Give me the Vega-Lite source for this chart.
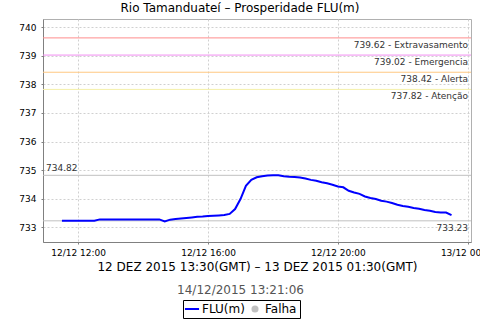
{
  "$schema": "https://vega.github.io/schema/vega-lite/v6.json",
  "width": 428,
  "height": 223,
  "autosize": {"type": "none"},
  "padding": {"left": 43, "top": 19, "right": 9, "bottom": 78},
  "background": "white",
  "config": {
    "font": "DejaVu Sans",
    "view": {"stroke": "#b0b0b0"},
    "axis": {
      "labelFont": "DejaVu Sans",
      "titleFont": "DejaVu Sans",
      "labelColor": "#000000",
      "titleColor": "#000000",
      "gridColor": "#d0d0d0",
      "gridDash": [2, 2],
      "gridWidth": 1,
      "tickSize": 2,
      "tickColor": "#808080",
      "domainColor": "#808080",
      "labelOverlap": false
    }
  },
  "title": {
    "text": "Rio Tamanduateí – Prosperidade FLU(m)",
    "font": "DejaVu Sans",
    "fontSize": 12,
    "fontWeight": "normal",
    "color": "#000000",
    "anchor": "middle",
    "dx": -17,
    "offset": 4
  },
  "datasets": {
    "serie": [
      {"hora": "2015-12-12T11:30:00", "nivel": 733.23, "serie": "FLU(m)"},
      {"hora": "2015-12-12T11:40:00", "nivel": 733.23, "serie": "FLU(m)"},
      {"hora": "2015-12-12T11:50:00", "nivel": 733.23, "serie": "FLU(m)"},
      {"hora": "2015-12-12T12:00:00", "nivel": 733.23, "serie": "FLU(m)"},
      {"hora": "2015-12-12T12:10:00", "nivel": 733.23, "serie": "FLU(m)"},
      {"hora": "2015-12-12T12:20:00", "nivel": 733.23, "serie": "FLU(m)"},
      {"hora": "2015-12-12T12:30:00", "nivel": 733.23, "serie": "FLU(m)"},
      {"hora": "2015-12-12T12:40:00", "nivel": 733.28, "serie": "FLU(m)"},
      {"hora": "2015-12-12T12:50:00", "nivel": 733.28, "serie": "FLU(m)"},
      {"hora": "2015-12-12T13:00:00", "nivel": 733.28, "serie": "FLU(m)"},
      {"hora": "2015-12-12T13:10:00", "nivel": 733.28, "serie": "FLU(m)"},
      {"hora": "2015-12-12T13:20:00", "nivel": 733.28, "serie": "FLU(m)"},
      {"hora": "2015-12-12T13:30:00", "nivel": 733.28, "serie": "FLU(m)"},
      {"hora": "2015-12-12T13:40:00", "nivel": 733.28, "serie": "FLU(m)"},
      {"hora": "2015-12-12T13:50:00", "nivel": 733.28, "serie": "FLU(m)"},
      {"hora": "2015-12-12T14:00:00", "nivel": 733.28, "serie": "FLU(m)"},
      {"hora": "2015-12-12T14:10:00", "nivel": 733.28, "serie": "FLU(m)"},
      {"hora": "2015-12-12T14:20:00", "nivel": 733.28, "serie": "FLU(m)"},
      {"hora": "2015-12-12T14:30:00", "nivel": 733.28, "serie": "FLU(m)"},
      {"hora": "2015-12-12T14:40:00", "nivel": 733.21, "serie": "FLU(m)"},
      {"hora": "2015-12-12T14:50:00", "nivel": 733.27, "serie": "FLU(m)"},
      {"hora": "2015-12-12T15:00:00", "nivel": 733.29, "serie": "FLU(m)"},
      {"hora": "2015-12-12T15:10:00", "nivel": 733.31, "serie": "FLU(m)"},
      {"hora": "2015-12-12T15:20:00", "nivel": 733.33, "serie": "FLU(m)"},
      {"hora": "2015-12-12T15:30:00", "nivel": 733.35, "serie": "FLU(m)"},
      {"hora": "2015-12-12T15:40:00", "nivel": 733.37, "serie": "FLU(m)"},
      {"hora": "2015-12-12T15:50:00", "nivel": 733.38, "serie": "FLU(m)"},
      {"hora": "2015-12-12T16:00:00", "nivel": 733.40, "serie": "FLU(m)"},
      {"hora": "2015-12-12T16:10:00", "nivel": 733.41, "serie": "FLU(m)"},
      {"hora": "2015-12-12T16:20:00", "nivel": 733.42, "serie": "FLU(m)"},
      {"hora": "2015-12-12T16:30:00", "nivel": 733.43, "serie": "FLU(m)"},
      {"hora": "2015-12-12T16:40:00", "nivel": 733.47, "serie": "FLU(m)"},
      {"hora": "2015-12-12T16:50:00", "nivel": 733.64, "serie": "FLU(m)"},
      {"hora": "2015-12-12T17:00:00", "nivel": 733.99, "serie": "FLU(m)"},
      {"hora": "2015-12-12T17:10:00", "nivel": 734.45, "serie": "FLU(m)"},
      {"hora": "2015-12-12T17:20:00", "nivel": 734.66, "serie": "FLU(m)"},
      {"hora": "2015-12-12T17:30:00", "nivel": 734.75, "serie": "FLU(m)"},
      {"hora": "2015-12-12T17:40:00", "nivel": 734.79, "serie": "FLU(m)"},
      {"hora": "2015-12-12T17:50:00", "nivel": 734.81, "serie": "FLU(m)"},
      {"hora": "2015-12-12T18:00:00", "nivel": 734.82, "serie": "FLU(m)"},
      {"hora": "2015-12-12T18:10:00", "nivel": 734.82, "serie": "FLU(m)"},
      {"hora": "2015-12-12T18:20:00", "nivel": 734.79, "serie": "FLU(m)"},
      {"hora": "2015-12-12T18:30:00", "nivel": 734.77, "serie": "FLU(m)"},
      {"hora": "2015-12-12T18:40:00", "nivel": 734.76, "serie": "FLU(m)"},
      {"hora": "2015-12-12T18:50:00", "nivel": 734.74, "serie": "FLU(m)"},
      {"hora": "2015-12-12T19:00:00", "nivel": 734.71, "serie": "FLU(m)"},
      {"hora": "2015-12-12T19:10:00", "nivel": 734.66, "serie": "FLU(m)"},
      {"hora": "2015-12-12T19:20:00", "nivel": 734.63, "serie": "FLU(m)"},
      {"hora": "2015-12-12T19:30:00", "nivel": 734.58, "serie": "FLU(m)"},
      {"hora": "2015-12-12T19:40:00", "nivel": 734.54, "serie": "FLU(m)"},
      {"hora": "2015-12-12T19:50:00", "nivel": 734.49, "serie": "FLU(m)"},
      {"hora": "2015-12-12T20:00:00", "nivel": 734.43, "serie": "FLU(m)"},
      {"hora": "2015-12-12T20:10:00", "nivel": 734.40, "serie": "FLU(m)"},
      {"hora": "2015-12-12T20:20:00", "nivel": 734.28, "serie": "FLU(m)"},
      {"hora": "2015-12-12T20:30:00", "nivel": 734.22, "serie": "FLU(m)"},
      {"hora": "2015-12-12T20:40:00", "nivel": 734.17, "serie": "FLU(m)"},
      {"hora": "2015-12-12T20:50:00", "nivel": 734.08, "serie": "FLU(m)"},
      {"hora": "2015-12-12T21:00:00", "nivel": 734.03, "serie": "FLU(m)"},
      {"hora": "2015-12-12T21:10:00", "nivel": 733.99, "serie": "FLU(m)"},
      {"hora": "2015-12-12T21:20:00", "nivel": 733.93, "serie": "FLU(m)"},
      {"hora": "2015-12-12T21:30:00", "nivel": 733.90, "serie": "FLU(m)"},
      {"hora": "2015-12-12T21:40:00", "nivel": 733.85, "serie": "FLU(m)"},
      {"hora": "2015-12-12T21:50:00", "nivel": 733.79, "serie": "FLU(m)"},
      {"hora": "2015-12-12T22:00:00", "nivel": 733.75, "serie": "FLU(m)"},
      {"hora": "2015-12-12T22:10:00", "nivel": 733.72, "serie": "FLU(m)"},
      {"hora": "2015-12-12T22:20:00", "nivel": 733.68, "serie": "FLU(m)"},
      {"hora": "2015-12-12T22:30:00", "nivel": 733.65, "serie": "FLU(m)"},
      {"hora": "2015-12-12T22:40:00", "nivel": 733.61, "serie": "FLU(m)"},
      {"hora": "2015-12-12T22:50:00", "nivel": 733.58, "serie": "FLU(m)"},
      {"hora": "2015-12-12T23:00:00", "nivel": 733.54, "serie": "FLU(m)"},
      {"hora": "2015-12-12T23:10:00", "nivel": 733.52, "serie": "FLU(m)"},
      {"hora": "2015-12-12T23:20:00", "nivel": 733.52, "serie": "FLU(m)"},
      {"hora": "2015-12-12T23:30:00", "nivel": 733.43, "serie": "FLU(m)"}
    ],
    "limites": [
      {"nome": "Extravasamento", "valor": 739.62, "rotulo": "739.62 - Extravasamento"},
      {"nome": "Emergencia", "valor": 739.02, "rotulo": "739.02 - Emergencia"},
      {"nome": "Alerta", "valor": 738.42, "rotulo": "738.42 - Alerta"},
      {"nome": "Atenção", "valor": 737.82, "rotulo": "737.82 - Atenção"}
    ],
    "extremos": [
      {"tipo": "max", "valor": 734.82, "rotulo": "734.82"},
      {"tipo": "min", "valor": 733.23, "rotulo": "733.23"}
    ]
  },
  "resolve": {"axis": {"x": "independent", "y": "independent"}},
  "layer": [
    {
      "data": {"name": "limites"},
      "mark": {"type": "rule", "strokeWidth": 1},
      "encoding": {
        "y": {
          "field": "valor",
          "type": "quantitative",
          "scale": {"domain": [732.49, 740.28], "nice": false, "zero": false},
          "axis": {
            "orient": "left",
            "values": [733, 734, 735, 736, 737, 738, 739, 740],
            "labelFontSize": 9,
            "labelPadding": 5,
            "labelOverlap": false,
            "title": null
          }
        },
        "stroke": {
          "field": "nome",
          "type": "nominal",
          "scale": {
            "domain": ["Extravasamento", "Emergencia", "Alerta", "Atenção"],
            "range": ["#ff8c8c", "#f08cf0", "#ffc882", "#f5f0aa"]
          },
          "legend": null
        }
      }
    },
    {
      "data": {"name": "extremos"},
      "mark": {"type": "rule", "strokeWidth": 1, "color": "#c0c0c0"},
      "encoding": {
        "y": {"field": "valor", "type": "quantitative", "axis": null}
      }
    },
    {
      "data": {"name": "serie"},
      "mark": {"type": "line", "strokeWidth": 2, "interpolate": "linear"},
      "encoding": {
        "x": {
          "field": "hora",
          "type": "temporal",
          "scale": {
            "domain": [
              {"year": 2015, "month": 12, "date": 12, "hours": 10, "minutes": 55},
              {"year": 2015, "month": 12, "date": 13, "hours": 0, "minutes": 6}
            ]
          },
          "axis": {
            "orient": "bottom",
            "values": [
              {"year": 2015, "month": 12, "date": 12, "hours": 12},
              {"year": 2015, "month": 12, "date": 12, "hours": 16},
              {"year": 2015, "month": 12, "date": 12, "hours": 20},
              {"year": 2015, "month": 12, "date": 13, "hours": 0}
            ],
            "format": "%d/%m %H:%M",
            "labelFontSize": 9,
            "labelPadding": 4,
            "labelOverlap": false,
            "title": "12 DEZ 2015 13:30(GMT) – 13 DEZ 2015 01:30(GMT)",
            "titleFontSize": 12,
            "titleFontWeight": "normal",
            "titlePadding": 4
          }
        },
        "y": {"field": "nivel", "type": "quantitative", "axis": null},
        "color": {
          "field": "serie",
          "type": "nominal",
          "scale": {"domain": ["FLU(m)", "Falha"], "range": ["#0000ff", "#c0c0c0"]},
          "legend": {
            "orient": "none",
            "legendX": 140,
            "legendY": 281,
            "direction": "horizontal",
            "title": null,
            "strokeColor": "#000000",
            "padding": 3,
            "labelFont": "DejaVu Sans",
            "labelFontSize": 12,
            "labelColor": "#000000",
            "columnPadding": 4,
            "symbolType": "stroke",
            "symbolSize": 200,
            "symbolStrokeWidth": 2,
            "encode": {
              "symbols": {
                "update": {
                  "shape": {"signal": "datum.value === 'Falha' ? 'circle' : 'stroke'"},
                  "size": {"signal": "datum.value === 'Falha' ? 50 : 200"},
                  "fill": {"signal": "datum.value === 'Falha' ? '#c0c0c0' : 'transparent'"},
                  "strokeWidth": {"signal": "datum.value === 'Falha' ? 0 : 2"}
                }
              }
            }
          }
        }
      }
    },
    {
      "data": {"name": "serie"},
      "mark": {"type": "line", "opacity": 0},
      "encoding": {
        "x": {
          "field": "hora",
          "type": "temporal",
          "axis": {
            "orient": "bottom",
            "labels": false,
            "ticks": false,
            "domain": false,
            "grid": false,
            "title": "14/12/2015 13:21:06",
            "titleColor": "#555555",
            "titleFontSize": 12,
            "titleFontWeight": "normal",
            "titleX": 197,
            "titlePadding": 0,
            "offset": 42
          }
        },
        "y": {"field": "nivel", "type": "quantitative", "axis": null}
      }
    },
    {
      "data": {"name": "limites"},
      "mark": {"type": "text", "align": "right", "baseline": "top", "dx": -3, "dy": 3, "fontSize": 9, "color": "#333333"},
      "encoding": {
        "x": {"datum": {"year": 2015, "month": 12, "date": 13, "hours": 0, "minutes": 6}, "type": "temporal", "axis": null},
        "y": {"field": "valor", "type": "quantitative", "axis": null},
        "text": {"field": "rotulo"}
      }
    },
    {
      "data": {"name": "extremos"},
      "transform": [{"filter": "datum.tipo === 'min'"}],
      "mark": {"type": "text", "align": "right", "baseline": "top", "dx": -3, "dy": 3, "fontSize": 9, "color": "#333333"},
      "encoding": {
        "x": {"datum": {"year": 2015, "month": 12, "date": 13, "hours": 0, "minutes": 6}, "type": "temporal", "axis": null},
        "y": {"field": "valor", "type": "quantitative", "axis": null},
        "text": {"field": "rotulo"}
      }
    },
    {
      "data": {"name": "extremos"},
      "transform": [{"filter": "datum.tipo === 'max'"}],
      "mark": {"type": "text", "align": "left", "baseline": "bottom", "dx": 3, "dy": -2, "fontSize": 9, "color": "#333333"},
      "encoding": {
        "x": {"datum": {"year": 2015, "month": 12, "date": 12, "hours": 10, "minutes": 55}, "type": "temporal", "axis": null},
        "y": {"field": "valor", "type": "quantitative", "axis": null},
        "text": {"field": "rotulo"}
      }
    }
  ]
}
